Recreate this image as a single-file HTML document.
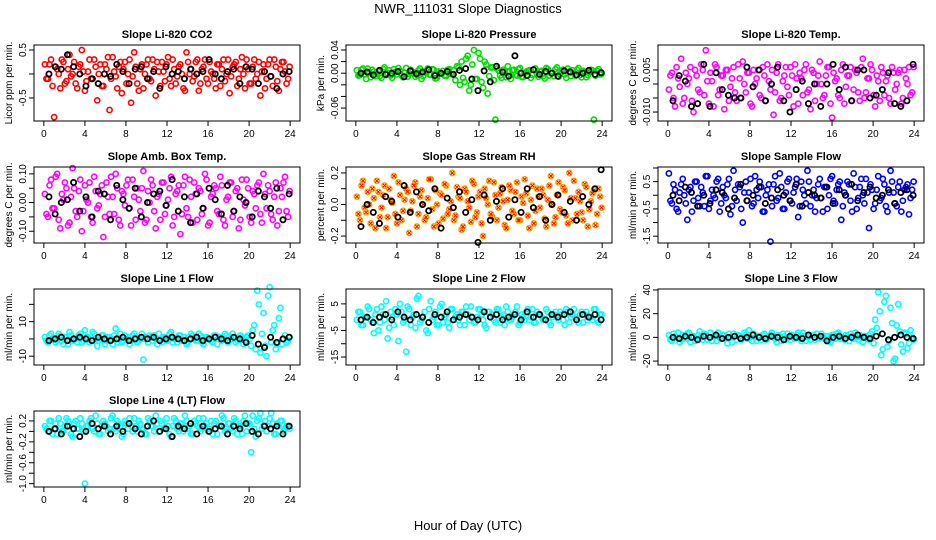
<!DOCTYPE html>
<html><head><meta charset="utf-8"><style>
html,body{margin:0;padding:0;background:#fff;}
svg{display:block;font-family:"Liberation Sans",sans-serif;}
</style></head><body>
<svg id="chart" width="936" height="540" viewBox="0 0 936 540" xmlns="http://www.w3.org/2000/svg">
<text x="468" y="13" text-anchor="middle" font-size="13">NWR_111031  Slope Diagnostics</text>
<text x="468" y="530" text-anchor="middle" font-size="13">Hour of Day (UTC)</text>
</svg>
<script>
const colorHours=[0.1,0.4,0.7,1.0,1.3,1.6,1.9,2.2,2.5,2.8,3.1,3.4,3.7,4.0,4.3,4.6,4.9,5.2,5.5,5.8,6.1,6.4,6.7,7.0,7.3,7.6,7.9,8.2,8.5,8.8,9.1,9.4,9.7,10.0,10.3,10.6,10.9,11.2,11.5,11.8,12.1,12.4,12.7,13.0,13.3,13.6,13.9,14.2,14.5,14.8,15.1,15.4,15.7,16.0,16.3,16.6,16.9,17.2,17.5,17.8,18.1,18.4,18.7,19.0,19.3,19.6,19.9,20.2,20.5,20.8,21.1,21.4,21.7,22.0,22.3,22.6,22.9,23.2,23.5,23.8];
const colorHours2=[0.25,0.55,0.85,1.15,1.45,1.75,2.05,2.35,2.65,2.95,3.25,3.55,3.85,4.15,4.45,4.75,5.05,5.35,5.65,5.95,6.25,6.55,6.85,7.15,7.45,7.75,8.05,8.35,8.65,8.95,9.25,9.55,9.85,10.15,10.45,10.75,11.05,11.35,11.65,11.95,12.25,12.55,12.85,13.15,13.45,13.75,14.05,14.35,14.65,14.95,15.25,15.55,15.85,16.15,16.45,16.75,17.05,17.35,17.65,17.95,18.25,18.55,18.85,19.15,19.45,19.75,20.05,20.35,20.65,20.95,21.25,21.55,21.85,22.15,22.45,22.75,23.05,23.35,23.65,23.95];
const blackHours=[0.5,1.1,1.7,2.3,2.9,3.5,4.1,4.7,5.3,5.9,6.5,7.1,7.7,8.3,8.9,9.5,10.1,10.7,11.3,11.9,12.5,13.1,13.7,14.3,14.9,15.5,16.1,16.7,17.3,17.9,18.5,19.1,19.7,20.3,20.9,21.5,22.1,22.7,23.3,23.9];
const xTicks=[0,4,8,12,16,20,24];

const co2Vals=[0.2,-0.1,0.3,-0.9,0.1,-0.3,0.25,-0.15,0.4,0.0,-0.2,0.15,0.5,-0.35,0.05,-0.1,0.3,-0.55,0.2,-0.25,0.1,-0.75,0.35,-0.05,0.15,-0.4,0.25,0.0,-0.6,0.45,-0.2,0.1,-0.3,0.2,-0.1,0.3,-0.45,0.05,0.25,-0.15,0.35,-0.25,0.1,-0.05,0.2,-0.3,0.45,0.0,-0.15,0.25,-0.35,0.1,0.3,-0.2,0.05,-0.1,0.2,-0.25,0.3,0.0,-0.4,0.15,0.25,-0.1,0.35,-0.3,0.1,-0.2,0.3,0.0,-0.45,0.2,-0.1,0.3,-0.25,0.15,-0.35,0.25,0.05,-0.1];
const co2Vals2=[-0.1,0.2,-0.25,0.15,0.0,0.3,-0.2,0.1,-0.05,0.25,-0.3,0.2,0.05,-0.15,0.3,-0.1,0.15,0.0,-0.25,0.2,0.35,-0.1,0.05,-0.3,0.25,0.1,-0.2,0.3,-0.05,0.15,-0.35,0.2,0.0,0.3,-0.15,0.1,0.25,-0.25,0.05,0.2,-0.1,0.3,-0.2,0.15,0.0,-0.35,0.25,0.1,-0.05,0.3,-0.2,0.15,-0.1,0.25,0.0,-0.3,0.2,0.1,-0.15,0.3,-0.05,0.2,-0.25,0.1,0.0,0.3,-0.2,0.15,-0.1,0.25,0.05,-0.3,0.2,-0.05,0.3,-0.15,0.1,0.25,-0.2,0.15];
const co2Black=[0.0,0.15,0.1,0.4,0.15,0.0,-0.25,-0.1,-0.2,0.0,-0.05,0.2,0.05,-0.2,0.1,0.15,-0.1,0.05,-0.3,0.15,0.0,0.05,-0.1,0.1,0.0,0.05,0.3,0.0,-0.1,0.05,0.1,-0.2,0.15,0.1,-0.2,0.05,-0.05,-0.3,0.0,0.05];
const presVals=[0.005,-0.003,0.008,-0.01,0.002,0.006,-0.005,0.003,-0.008,0.01,0.0,-0.004,0.007,-0.002,0.004,-0.007,0.009,-0.001,0.003,-0.006,0.005,-0.01,0.002,0.008,-0.003,0.006,-0.008,0.001,0.004,-0.005,0.007,-0.002,-0.012,0.01,0.02,-0.015,0.03,-0.02,0.04,-0.01,0.025,-0.025,0.015,-0.005,0.01,-0.08,0.005,-0.008,0.003,0.012,-0.01,0.006,-0.004,0.009,-0.007,0.002,0.005,-0.003,0.008,-0.006,0.004,-0.009,0.007,0.0,-0.005,0.01,-0.002,0.006,-0.008,0.003,0.005,-0.004,0.009,-0.007,0.002,-0.003,0.006,-0.08,0.004,-0.002];
const presVals2=[-0.004,0.006,-0.002,0.008,-0.007,0.003,0.0,-0.005,0.007,-0.003,0.005,-0.008,0.002,0.009,-0.004,0.001,-0.006,0.006,0.0,-0.003,0.008,-0.005,0.004,-0.002,0.007,-0.009,0.003,0.0,-0.004,0.006,-0.001,0.005,0.012,-0.02,-0.008,0.025,-0.03,0.015,-0.01,0.035,-0.015,0.02,-0.035,0.01,-0.012,0.008,-0.004,0.006,-0.007,0.002,0.005,-0.003,0.007,-0.006,0.001,0.004,-0.008,0.006,-0.002,0.003,-0.005,0.009,-0.004,0.001,0.007,-0.006,0.003,-0.002,0.008,-0.005,0.0,0.006,-0.003,0.004,-0.007,0.002,0.005,-0.004,0.007,-0.001];
const presBlack=[0.0,0.002,-0.003,0.005,-0.002,0.0,0.003,-0.006,0.004,-0.001,0.002,0.006,-0.004,0.0,0.003,-0.002,0.005,0.008,-0.01,-0.03,0.004,-0.015,0.012,0.002,-0.005,0.03,0.0,-0.004,0.006,-0.002,0.003,0.0,-0.005,0.004,0.002,-0.003,0.0,0.005,-0.002,0.001];
const tempVals=[-0.002,0.004,-0.008,0.002,0.009,-0.005,0.0,0.006,-0.01,0.003,-0.003,0.005,0.012,-0.007,0.001,0.007,-0.004,0.003,-0.009,0.005,-0.001,0.006,-0.006,0.002,0.008,-0.003,0.004,-0.008,0.0,0.005,-0.005,0.003,0.007,-0.002,-0.011,0.004,-0.006,0.001,0.006,-0.004,0.003,0.007,-0.007,0.002,0.005,-0.003,-0.009,0.004,0.0,0.008,-0.005,0.003,0.006,-0.012,0.001,-0.004,0.005,-0.007,0.003,0.006,-0.002,0.004,-0.006,0.009,-0.003,0.002,0.005,-0.008,0.001,0.006,-0.004,0.003,-0.007,0.004,0.0,0.005,-0.005,0.002,0.006,-0.003];
const tempVals2=[0.003,-0.005,0.006,-0.001,-0.007,0.004,0.002,-0.006,0.005,-0.002,0.007,-0.004,0.001,0.004,-0.008,0.006,-0.002,0.003,0.005,-0.006,0.002,-0.003,0.007,-0.005,0.0,0.004,-0.007,0.005,0.002,-0.004,0.006,-0.006,0.001,0.005,-0.003,0.007,-0.005,0.003,-0.001,0.006,-0.008,0.002,0.004,-0.004,0.007,-0.002,0.005,-0.006,0.003,0.0,-0.004,0.006,-0.007,0.004,0.002,-0.005,0.007,-0.001,0.003,-0.006,0.005,-0.003,0.006,-0.005,0.002,0.007,-0.004,0.003,-0.006,0.004,0.001,-0.005,0.006,-0.002,0.004,-0.007,0.005,0.0,-0.004,0.006];
const tempBlack=[-0.006,0.003,0.001,-0.008,-0.007,0.007,-0.008,0.004,-0.002,-0.004,-0.005,-0.005,0.006,-0.001,0.005,-0.006,0.0,0.006,-0.006,-0.01,-0.002,0.001,-0.007,0.0,-0.008,0.0,0.007,-0.002,0.006,-0.006,0.005,0.005,-0.005,-0.004,-0.002,0.004,-0.007,-0.008,-0.006,0.007];
const ambVals=[0.03,-0.05,0.08,-0.02,0.1,-0.09,0.01,0.05,-0.07,0.12,-0.03,0.04,-0.1,0.06,0.0,-0.05,0.09,-0.02,0.03,-0.12,0.07,-0.04,0.02,0.1,-0.06,0.04,-0.01,0.08,-0.08,0.02,0.05,-0.03,0.11,-0.06,0.0,0.06,-0.09,0.03,0.07,-0.04,0.01,0.09,-0.05,0.04,-0.11,0.06,-0.02,0.08,-0.07,0.03,0.05,-0.04,0.1,-0.08,0.02,0.06,-0.03,0.09,-0.06,0.01,0.07,-0.05,0.04,-0.09,0.08,-0.01,0.05,-0.07,0.03,0.06,-0.04,0.1,-0.02,0.04,-0.06,0.07,-0.03,0.02,0.09,-0.05];
const ambVals2=[-0.04,0.06,-0.02,0.09,-0.06,0.03,0.07,-0.08,0.02,0.05,-0.05,0.08,-0.03,0.01,0.07,-0.07,0.04,-0.01,0.06,-0.05,0.02,0.09,-0.04,0.05,-0.08,0.03,0.06,-0.02,0.08,-0.06,0.01,0.05,-0.07,0.04,0.08,-0.03,0.02,-0.06,0.07,-0.01,0.05,-0.08,0.03,0.06,-0.04,0.09,-0.05,0.02,0.07,-0.06,0.04,-0.02,0.08,-0.07,0.03,0.05,-0.04,0.06,-0.08,0.02,0.07,-0.03,0.05,-0.06,0.01,0.08,-0.05,0.04,-0.02,0.07,-0.07,0.03,0.06,-0.04,0.02,-0.08,0.05,0.07,-0.03,0.04];
const ambBlack=[0.02,-0.04,0.0,0.01,0.07,-0.03,0.02,-0.05,0.04,0.03,-0.06,0.06,0.01,-0.02,0.05,-0.05,0.0,0.03,0.04,-0.01,0.08,-0.03,0.02,-0.07,0.03,-0.02,0.05,0.01,-0.04,0.06,-0.03,0.02,0.0,-0.05,0.04,0.02,-0.02,0.05,-0.06,0.03];
const rhVals=[0.05,-0.1,0.15,-0.05,0.0,0.1,-0.15,0.08,-0.02,0.12,-0.08,0.03,0.18,-0.12,0.06,-0.04,0.1,-0.18,0.02,0.14,-0.06,0.09,-0.1,0.04,0.16,-0.14,0.0,0.07,-0.09,0.12,-0.03,0.2,-0.07,0.05,-0.16,0.1,0.02,-0.11,0.13,-0.05,0.08,-0.2,0.04,0.15,-0.08,0.06,-0.02,0.11,-0.13,0.03,0.09,-0.06,0.14,-0.1,0.01,0.07,-0.15,0.12,-0.04,0.05,0.1,-0.09,0.03,0.18,-0.12,0.06,-0.03,0.11,-0.07,0.2,-0.1,0.04,0.08,-0.05,0.13,-0.14,0.02,0.09,-0.06,0.05];
const rhVals2=[-0.06,0.12,-0.02,0.08,-0.12,0.04,0.15,-0.08,0.06,-0.15,0.1,0.01,-0.06,0.14,-0.1,0.03,0.08,-0.04,0.12,-0.14,0.05,0.0,-0.08,0.16,-0.03,0.09,-0.12,0.06,0.13,-0.06,0.02,-0.1,0.11,0.04,-0.14,0.08,-0.02,0.15,-0.08,0.05,-0.12,0.1,0.0,-0.06,0.14,-0.1,0.07,0.02,-0.15,0.12,-0.04,0.08,-0.1,0.05,0.16,-0.07,0.03,-0.12,0.1,-0.02,0.06,-0.14,0.12,0.0,-0.08,0.14,-0.05,0.09,-0.12,0.04,0.15,-0.06,0.02,-0.1,0.11,-0.03,0.07,-0.13,0.1,-0.02];
const rhBlack=[-0.14,0.0,-0.05,-0.12,0.05,0.02,-0.08,0.12,-0.05,0.08,0.0,-0.04,0.1,-0.15,0.04,-0.02,0.08,-0.05,0.03,-0.24,0.06,-0.1,0.02,0.1,-0.08,0.03,-0.05,0.1,-0.02,0.05,-0.1,0.0,0.06,-0.05,0.02,-0.1,0.05,0.0,0.1,0.22];
const flowVals=[0.8,-0.3,0.2,-0.6,0.4,0.0,-0.9,0.3,-0.2,0.5,-0.4,0.1,0.7,-0.5,0.2,-0.1,0.6,-0.3,0.0,0.4,-0.7,0.9,-0.2,0.3,-1.0,0.5,0.1,-0.4,0.7,-0.1,0.3,-0.6,0.2,-1.7,0.4,-0.2,0.8,-0.5,0.1,0.6,-0.3,0.3,-0.8,0.5,0.0,0.9,-0.4,0.2,-0.1,0.6,-0.6,0.3,0.0,0.7,-0.3,0.4,-0.9,0.1,0.5,-0.2,0.8,-0.5,0.3,0.0,0.6,-1.2,0.2,-0.3,0.7,-0.1,0.4,-0.6,0.9,0.1,-0.4,0.5,-0.2,0.3,-0.7,0.2];
const flowVals2=[-0.2,0.4,-0.5,0.1,0.6,-0.3,0.2,-0.6,0.5,-0.1,0.3,-0.4,0.7,-0.2,0.0,0.5,-0.6,0.3,-0.1,0.6,-0.4,0.2,0.4,-0.5,0.1,-0.2,0.6,-0.3,0.2,0.5,-0.6,0.0,0.4,-0.4,0.7,-0.1,0.3,-0.5,0.5,-0.2,0.1,0.6,-0.4,0.2,-0.3,0.5,0.0,-0.6,0.4,-0.1,0.3,-0.5,0.6,-0.2,0.2,0.5,-0.4,0.0,0.4,-0.6,0.3,-0.1,0.6,-0.3,0.1,0.4,-0.5,0.2,-0.2,0.6,-0.4,0.1,0.5,-0.3,0.3,-0.6,0.2,0.4,-0.1,0.5];
const flowBlack=[0.0,-0.2,0.3,0.1,-0.4,0.0,-0.3,0.2,0.1,-0.5,-0.1,0.4,-0.2,0.0,0.3,-0.3,-0.1,0.2,0.0,-0.2,0.4,-0.4,0.1,0.0,-0.1,0.3,-0.3,0.2,0.0,0.4,-0.2,0.1,0.3,-0.1,0.0,0.2,-0.3,0.1,0.2,0.0];
const line1Vals=[1,-2,3,0,-1,2,-3,1,4,-1,0,2,-2,5,1,-1,3,-4,0,2,-1,1,-3,6,0,-2,2,1,-1,3,-2,0,-12,1,2,-1,0,3,-2,1,-1,4,0,-2,2,1,-3,0,2,-1,3,-2,1,0,-1,2,-3,1,0,2,-1,3,-2,0,1,-1,2,-4,8,28,-8,15,-10,30,5,-6,12,-3,2,-1];
const line1Vals2=[-1,2,0,-2,3,-1,1,-3,2,0,-2,3,-1,1,-2,4,0,-1,2,-3,1,0,2,-2,3,-1,0,-3,2,1,-1,3,0,-2,1,2,-3,0,1,-1,3,-2,0,2,-1,1,-2,3,0,-1,2,-3,1,0,-2,2,1,-1,3,-2,0,1,-1,2,-3,1,0,5,-6,20,3,-4,25,-2,8,-3,18,0,-2,1];
const line1Black=[-1,0,1,-1,0,1,0,-1,1,0,-1,0,1,-1,0,1,0,1,-1,0,1,0,-1,0,1,-1,0,1,0,-1,1,0,-2,2,-3,-5,1,-2,0,1];
const line2Vals=[-1,2,-3,0,3,-2,1,-5,4,-1,-8,2,-3,1,5,-2,-13,3,0,-4,8,-1,2,-6,6,0,-3,4,-2,1,-4,3,0,-1,2,-3,1,4,-2,0,3,-1,-4,2,1,-2,3,0,-3,2,-1,1,4,-2,0,2,-1,3,-2,1,0,-1,2,-3,1,0,2,-1,3,-2,1,0,-2,2,1,-1,0,3,-1,1];
const line2Vals2=[2,-3,0,4,-1,-6,3,-2,1,6,-4,0,3,-9,2,-1,4,-3,1,7,-2,0,-5,3,-1,2,-3,5,0,-2,3,-1,1,-3,2,4,-1,0,-2,3,1,-3,2,0,-1,3,-2,1,4,-1,0,2,-3,1,-1,3,0,-2,2,1,-1,3,-2,0,2,-1,1,-3,2,0,3,-1,1,-2,2,0,-1,3,-2,1];
const line2Black=[-1,0,-2,0,1,-1,2,0,-1,1,0,-2,1,0,2,-1,0,1,0,-1,2,0,1,-1,0,1,-1,2,0,1,-1,1,0,1,2,-1,1,0,1,-1];
const line3Vals=[2,-3,1,4,-2,0,3,-4,1,-1,5,-2,2,0,-3,1,4,-1,2,-5,0,3,-2,1,-1,2,6,-3,0,1,-2,3,-1,2,0,-4,1,3,-2,0,2,-1,4,-3,1,0,-2,2,3,-1,0,1,-3,2,-1,4,0,-2,1,3,-1,0,2,-4,1,-2,5,15,38,-15,30,-8,25,-20,10,5,-12,3,-5,0];
const line3Vals2=[-2,3,0,-4,2,-1,4,1,-3,2,0,3,-2,4,1,-3,0,2,-1,3,-4,1,2,-2,4,-1,0,3,-3,1,2,-2,0,4,-1,2,-3,1,3,-2,0,2,-1,4,-3,1,2,-2,0,3,-1,1,-4,2,3,-1,0,2,-3,1,4,-2,0,1,-1,3,-5,8,22,-10,35,-3,12,-18,28,-6,4,-9,6,-2];
const line3Black=[0,-1,1,0,-2,1,0,2,-1,0,1,-1,0,2,0,-1,1,0,-2,1,0,-1,2,0,1,-3,0,1,-1,0,2,0,-1,1,3,-2,0,2,0,-1];
const line4Vals=[0.1,0.0,0.2,0.05,-0.05,0.15,0.0,0.25,0.1,-0.1,0.2,0.05,0.15,-1.0,0.1,0.25,0.0,0.15,-0.05,0.2,0.1,0.05,0.3,0.0,0.15,-0.1,0.2,0.05,0.1,0.25,0.0,0.15,0.05,-0.05,0.2,0.1,0.3,0.0,0.15,0.05,0.1,-0.1,0.25,0.05,0.15,0.0,0.2,0.1,-0.05,0.15,0.25,0.05,0.1,0.0,0.2,0.15,-0.05,0.1,0.25,0.05,0.15,0.0,0.2,0.1,-0.05,0.3,0.15,-0.4,0.05,0.2,0.35,0.1,0.0,0.25,0.15,-0.05,0.1,0.2,0.05,0.1];
const line4Vals2=[0.05,0.2,-0.05,0.15,0.25,0.0,0.1,0.2,-0.05,0.15,0.05,0.25,0.0,0.1,0.2,0.05,0.3,-0.05,0.1,0.15,0.0,0.25,0.05,0.2,0.1,-0.05,0.15,0.25,0.0,0.1,0.2,0.05,-0.05,0.25,0.1,0.0,0.15,0.2,0.05,0.25,-0.05,0.1,0.2,0.0,0.15,0.3,0.05,-0.05,0.2,0.1,0.0,0.25,0.15,0.05,-0.05,0.2,0.1,0.3,0.0,0.15,0.05,0.25,-0.05,0.1,0.2,0.0,0.15,0.3,-0.1,0.25,0.05,0.2,0.1,0.35,-0.05,0.15,0.2,0.0,0.1,0.05];
const line4Black=[0.0,0.05,-0.05,0.1,0.05,-0.1,0.0,0.15,0.05,0.1,-0.05,0.1,0.0,0.15,0.05,-0.05,0.1,0.2,0.0,0.05,-0.1,0.1,0.05,0.15,-0.05,0.1,0.0,0.05,0.1,-0.05,0.1,0.05,0.15,0.0,-0.05,0.1,0.05,0.1,-0.05,0.1];

const co2Ticks=[-0.5,0,0.5], co2Labels=["-0.5","","0.5"];
const presTicks=[-0.06,-0.04,-0.02,0,0.02,0.04], presLabels=["-0.06","","","0.00","","0.04"];
const tempTicks=[-0.010,-0.005,0,0.005], tempLabels=["-0.010","","","0.005"];
const ambTicks=[-0.10,-0.05,0,0.05,0.10], ambLabels=["-0.10","","0.00","","0.10"];
const rhTicks=[-0.2,-0.1,0,0.1,0.2], rhLabels=["-0.2","","0.0","","0.2"];
const flowTicks=[-1.5,-1.0,-0.5,0,0.5,1.0], flowLabels=["-1.5","","-0.5","","0.5",""];
const line1Ticks=[-10,0,10,20], line1Labels=["-10","","10",""];
const line2Ticks=[-15,-10,-5,0,5], line2Labels=["-15","","-5","","5"];
const line3Ticks=[-20,0,20,40], line3Labels=["-20","0","20","40"];
const line4Ticks=[-1.0,-0.8,-0.6,-0.4,-0.2,0,0.2], line4Labels=["-1.0","","-0.6","","-0.2","","0.2"];

const panels=[
 {name:"co2",title:"Slope Li-820 CO2",ylab:"Licor ppm per min.",col:0,row:0,ymin:-0.98,ymax:0.604,vals:co2Vals,vals2:co2Vals2,blk:co2Black,ticks:co2Ticks,labels:co2Labels,color:"#ff0000"},
 {name:"pressure",title:"Slope Li-820 Pressure",ylab:"kPa per min.",col:1,row:0,ymin:-0.0823,ymax:0.0486,vals:presVals,vals2:presVals2,blk:presBlack,ticks:presTicks,labels:presLabels,color:"#00dd00"},
 {name:"temp",title:"Slope Li-820 Temp.",ylab:"degrees C per min.",col:2,row:0,ymin:-0.0132,ymax:0.0139,vals:tempVals,vals2:tempVals2,blk:tempBlack,ticks:tempTicks,labels:tempLabels,color:"#ff00ff"},
 {name:"amb-box-temp",title:"Slope Amb. Box Temp.",ylab:"degrees C per min.",col:0,row:1,ymin:-0.141,ymax:0.124,vals:ambVals,vals2:ambVals2,blk:ambBlack,ticks:ambTicks,labels:ambLabels,color:"#ff00ff"},
 {name:"gas-stream-rh",title:"Slope Gas Stream RH",ylab:"percent per min.",col:1,row:1,ymin:-0.244,ymax:0.2375,vals:rhVals,vals2:rhVals2,blk:rhBlack,ticks:rhTicks,labels:rhLabels,color:"#ffa500",cross:"#ff0000"},
 {name:"sample-flow",title:"Slope Sample Flow",ylab:"ml/min per min.",col:2,row:1,ymin:-1.75,ymax:1.036,vals:flowVals,vals2:flowVals2,blk:flowBlack,ticks:flowTicks,labels:flowLabels,color:"#0000ff"},
 {name:"line1-flow",title:"Slope Line 1 Flow",ylab:"ml/min per min.",col:0,row:2,ymin:-15.1,ymax:28.9,vals:line1Vals,vals2:line1Vals2,blk:line1Black,ticks:line1Ticks,labels:line1Labels,color:"#00ffff"},
 {name:"line2-flow",title:"Slope Line 2 Flow",ylab:"ml/min per min.",col:1,row:2,ymin:-18,ymax:10.6,vals:line2Vals,vals2:line2Vals2,blk:line2Black,ticks:line2Ticks,labels:line2Labels,color:"#00ffff"},
 {name:"line3-flow",title:"Slope Line 3 Flow",ylab:"ml/min per min.",col:2,row:2,ymin:-23.3,ymax:40.8,vals:line3Vals,vals2:line3Vals2,blk:line3Black,ticks:line3Ticks,labels:line3Labels,color:"#00ffff"},
 {name:"line4-flow",title:"Slope Line 4 (LT) Flow",ylab:"ml/min per min.",col:0,row:3,ymin:-1.064,ymax:0.39,vals:line4Vals,vals2:line4Vals2,blk:line4Black,ticks:line4Ticks,labels:line4Labels,color:"#00ffff"}
];
const NS="http://www.w3.org/2000/svg";
const svg=document.getElementById("chart");
function mk(tag,attrs,parent){const e=document.createElementNS(NS,tag);for(const k in attrs)e.setAttribute(k,attrs[k]);parent.appendChild(e);return e;}
const colX=[34,346,658], rowY=[45,167,289,411], W=266, H=76;
panels.forEach(p=>{
  const x0=colX[p.col], y0=rowY[p.row];
  const g=mk("g",{},svg);
  
  
  const xs=h=>x0+(h+0.96)/25.92*W;
  const ys=v=>y0+H-(v-p.ymin)/(p.ymax-p.ymin)*H;
  const t=mk("text",{x:x0+W/2,y:y0-7,"text-anchor":"middle","font-size":"11","font-weight":"bold"},g);
  t.textContent=p.title;
  
  
  const yl=mk("text",{x:0,y:0,"text-anchor":"middle","font-size":"10",transform:`translate(${x0-22},${y0+H/2}) rotate(-90)`},g);
  yl.textContent=p.ylab;
  
  
  const pts=mk("g",{fill:"none","stroke-width":"1.6"},g);
  
  
  function drawColored(hours,vals){
    vals.forEach((v,i)=>{
      const cx=xs(hours[i]), cy=ys(v);
      const c=mk("circle",{cx:cx,cy:cy,r:2.6,stroke:p.color},pts);
      
      
      if(p.cross){
        const x=mk("path",{d:`M${cx-1.8},${cy-1.8}L${cx+1.8},${cy+1.8}M${cx-1.8},${cy+1.8}L${cx+1.8},${cy-1.8}`,stroke:p.cross,"stroke-width":"1"},pts);
        
        
      }
    });
  }
  drawColored(colorHours,p.vals);
  drawColored(colorHours2,p.vals2);
  const bp=mk("g",{fill:"none","stroke-width":"1.8",stroke:"#000"},g);
  
  
  p.blk.forEach((v,i)=>{
    const c=mk("circle",{cx:xs(blackHours[i]),cy:ys(v),r:2.6},bp);
    
    
  });
  const box=mk("rect",{x:x0,y:y0,width:W,height:H,fill:"none",stroke:"#000","stroke-width":"1"},g);
  
  
  const xa=mk("g",{},g);
  
  
  mk("line",{x1:xs(0),x2:xs(24),y1:y0+H,y2:y0+H,stroke:"#000"},xa);
  xTicks.forEach(h=>{
    mk("line",{x1:xs(h),x2:xs(h),y1:y0+H,y2:y0+H+5,stroke:"#000"},xa);
    const l=mk("text",{x:xs(h),y:y0+H+16,"text-anchor":"middle","font-size":"10"},xa);
    l.textContent=h;
    
    
  });
  const ya=mk("g",{},g);
  
  
  const tk=p.ticks;
  mk("line",{x1:x0,x2:x0,y1:ys(tk[0]),y2:ys(tk[tk.length-1]),stroke:"#000"},ya);
  tk.forEach((v,i)=>{
    mk("line",{x1:x0-5,x2:x0,y1:ys(v),y2:ys(v),stroke:"#000"},ya);
    if(p.labels[i]){
      const l=mk("text",{x:0,y:0,"text-anchor":"middle","font-size":"10",transform:`translate(${x0-8},${ys(v)}) rotate(-90)`},ya);
      l.textContent=p.labels[i];
      
      
    }
  });
});
</script>
</body></html>
